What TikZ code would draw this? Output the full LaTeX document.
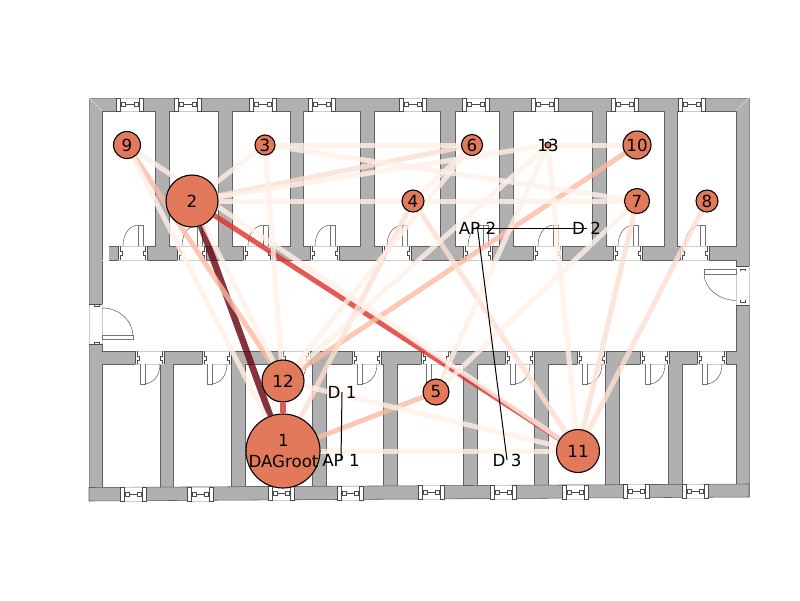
\documentclass[tikz,border=0pt]{standalone}
\usepackage{fontspec}
\setmainfont{DejaVu Sans}
\definecolor{wallgray}{HTML}{B0B0B0}
\definecolor{wallline}{HTML}{606060}
\definecolor{motefill}{HTML}{E2795B}
\definecolor{reddark}{HTML}{67000D}
\definecolor{redmid}{HTML}{E32F27}
\definecolor{redsalmon}{HTML}{FCB9A0}
\definecolor{redlight}{HTML}{FEDFD0}
\definecolor{redfaint}{HTML}{FFF0E8}
\pgfdeclarelayer{floorlayer}
\pgfdeclarelayer{linklayer}
\pgfsetlayers{floorlayer,linklayer,main}

\begin{document}
\begin{tikzpicture}[
  x=1pt, y=-1pt,
  font=\fontsize{16.67}{21}\selectfont,
  wall/.style={fill=wallgray, draw=wallline, line width=0.55pt},
  room/.style={fill=white, draw=wallline, line width=0.55pt},
  jamb/.style={draw=black!70, line width=0.55pt},
  frame/.style={draw=black!20, line width=0.55pt},
  leaf/.style={draw=black!55, line width=0.55pt},
  swing/.style={draw=black!70, line width=0.45pt},
  mote/.style={circle, draw=black, fill=motefill, line width=1.1pt, inner sep=0pt, minimum size=#1},
  link/.style={line width=5pt, line cap=butt, opacity=0.8, draw=#1},
  tag/.style={inner sep=0pt},
  lead/.style={draw=black, line width=1pt},
]
\useasboundingbox (0,0) rectangle (800,600);
\begin{pgfonlayer}{floorlayer}
% ================= walls and rooms =================
\fill[wallgray] (89,98) -- (749,98) -- (749,497) -- (89,501) -- cycle;
\draw[black!45, line width=0.6pt] (89,501) -- (89,98) -- (749,98) -- (749,497);
\draw[black!15, line width=0.5pt] (89,98) -- (102,111) (749,98) -- (736,111) (749,497) -- (736,484) (89,501) -- (102,487);
\foreach \xa/\xb in {102/155,169/218,232/290,303/360,374/440,455/499,513/592,606/664,677/736}
  \draw[room] (\xa,111) rectangle (\xb,246);
\foreach \xa/\xb in {102/160,173/231,245/312,326/383,397/463,477/534,548/605,619/668,682/736}{
  \pgfmathsetmacro\ya{487.5-(\xa-89)*0.0053}
  \draw[room] (\xa,364) rectangle (\xb,\ya);
}
\draw[room] (102,260) rectangle (736,351);
\fill[white] (102,246) rectangle (108.5,261);
\draw[wallline, line width=0.55pt] (102,246) -- (102,260);
\fill[white] (103,261) rectangle (735,350);
\draw[wall] (89,501) -- (749,497) -- (749,484) -- (89,487.5) -- cycle;
% ================= windows =================
\foreach \x in {116,174,249,308,399,462,531,611,678}{
  \fill[white] (\x,98) rectangle ++(27,13);
  \draw[frame] (\x,98) -- ++(27,0) (\x,111) -- ++(27,0);
  \draw[jamb] (\x,98) rectangle ++(4,13);
  \draw[jamb] (\x+23,98) rectangle ++(4,13);
  \draw[jamb] (\x+5,102.5) rectangle ++(4,4);
  \draw[jamb] (\x+18,102.5) rectangle ++(4,4);
  \draw[jamb] (\x+9,104.5) -- (\x+18,104.5);
}
\foreach \x in {120,187,268,337,418,490,562,623,682}{
  \pgfmathsetmacro\yw{487.5-(\x-89)*0.0053}
  \fill[white] (\x,\yw) rectangle ++(26,14);
  \draw[frame] (\x,\yw) -- ++(26,0) (\x,\yw+14) -- ++(26,0);
  \draw[jamb] (\x,\yw) rectangle ++(4,14);
  \draw[jamb] (\x+22,\yw) rectangle ++(4,14);
  \draw[jamb] (\x+5,\yw+5) rectangle ++(4,4);
  \draw[jamb] (\x+17,\yw+5) rectangle ++(4,4);
  \draw[jamb] (\x+9,\yw+7) -- (\x+17,\yw+7);
}
% ================= doors, upper rooms =================
\foreach \x in {118,177,243,310,382,463,533,613,680}{
  \fill[white] (\x,246) rectangle ++(29,14.5);
  \draw[frame] (\x,246) -- ++(29,0) (\x,260) -- ++(29,0);
  \draw[jamb] (\x+2,246) -- ++(0,5) -- ++(2,0) -- ++(0,4) -- ++(-2,0) -- ++(0,5);
  \draw[jamb] (\x+27,246) -- ++(0,5) -- ++(-2,0) -- ++(0,4) -- ++(2,0) -- ++(0,5);
  \draw[jamb] (\x,246) -- (\x,260) (\x+29,246) -- (\x+29,260);
  \fill[white] (\x+20,225) rectangle ++(5,21);
  \draw[leaf] (\x+20,246) -- (\x+20,225) -- (\x+25,225) -- (\x+25,246);
  \draw[swing] (\x+5,246) .. controls (\x+5,234) and (\x+11,226) .. (\x+20,225);
}
% ================= doors, lower rooms =================
\foreach \x in {135,202,281,352,421,505,577,640,697}{
  \fill[white] (\x,350.5) rectangle ++(29,14);
  \draw[frame] (\x,351) -- ++(29,0) (\x,364) -- ++(29,0);
  \draw[jamb] (\x+2,351) -- ++(0,5) -- ++(2,0) -- ++(0,4) -- ++(-2,0) -- ++(0,4);
  \draw[jamb] (\x+27,351) -- ++(0,5) -- ++(-2,0) -- ++(0,4) -- ++(2,0) -- ++(0,4);
  \draw[jamb] (\x,351) -- (\x,364) (\x+29,351) -- (\x+29,364);
  \fill[white] (\x+5,364) rectangle ++(5,20);
  \draw[leaf] (\x+5,364) -- (\x+5,384) -- (\x+10,384) -- (\x+10,364);
  \draw[swing] (\x+10,384) .. controls (\x+19,383) and (\x+25,375) .. (\x+25,364);
}
% ================= corridor end doors =================
\fill[white] (88.5,304) rectangle (103,344);
\draw[frame] (89,304) -- (89,344) (102,304) -- (102,344);
\draw[jamb] (89,304) -- (102,304) (89,344) -- (102,344);
\draw[jamb] (94,304) -- ++(0,2) -- ++(5,0) -- ++(0,-2);
\draw[jamb] (94,344) -- ++(0,-2) -- ++(5,0) -- ++(0,2);
\draw[leaf] (102,335) rectangle (133,339.5);
\draw[swing] (102,308) .. controls (119,308) and (132,320) .. (133,335);
\fill[white] (735.5,266) rectangle (749.5,305);
\draw[frame] (736,266) -- (736,305) (749,266) -- (749,305);
\draw[jamb] (736,266) -- (749,266) (736,305) -- (749,305);
\draw[jamb] (740,271) -- ++(0,-2) -- ++(5,0) -- ++(0,2);
\draw[jamb] (740,300) -- ++(0,2) -- ++(5,0) -- ++(0,-2);
\draw[leaf] (704,269.5) rectangle (736,274.5);
\draw[swing] (704,274.5) .. controls (705,289) and (719,300) .. (736,300.5);
\end{pgfonlayer}
% ================= motes =================
\node[mote=74] (m1) at (283,451) {};
\node[mote=52] (m2) at (192,201) {2};
\node[mote=20] (m3) at (265,145) {3};
\node[mote=22] (m4) at (413,201) {4};
\node[mote=26] (m5) at (436,392) {5};
\node[mote=21] (m6) at (472,145) {6};
\node[mote=25] (m7) at (637,201) {7};
\node[mote=22] (m8) at (707,201) {8};
\node[mote=27] (m9) at (127,145) {9};
\node[mote=28] (m10) at (637,145) {10};
\node[mote=43] (m11) at (578,451) {11};
\node[mote=42] (m12) at (283,381) {12};
\node[mote=6] (m13) at (548,145) {};
\node[tag, align=center] (t1) at (283.5,451) {1\\DAGroot};
\node[tag] (t13) at (548,145) {13};
% ================= links =================
\begin{pgfonlayer}{linklayer}
\draw[link=redmid] (m2) -- (m11);
\draw[link=redmid, line width=6pt] (m1) -- (m12);
\draw[link=reddark, line width=6.5pt] (m1) -- (m2);
\foreach \a/\b in {m9/m12,m10/m12,m1/m5}
  \draw[link=redsalmon] (\a) -- (\b);
\foreach \a/\b in {m2/m6,m4/m1,m4/m11,m7/m11,m8/m11}
  \draw[link=redlight] (\a.center) -- (\b.center);
\foreach \a/\b in {m9/m1,m9/m11,m2/m12,m2/m3,m2/m13,m2/m7,m3/m6,m3/m7,m3/m12,m6/m12,m6/m4,m13/m12,m13/m5,m13/m11,m13/m10,m1/m11,m12/m11,m7/m5}
  \draw[link=redfaint] (\a.center) -- (\b.center);
\end{pgfonlayer}
% ================= access points and destinations =================
\node[tag] (ap1) at (341,460) {AP 1};
\node[tag] (d1) at (342,392) {D 1};
\node[tag] (ap2) at (477.5,228) {AP 2};
\node[tag] (d2) at (586.5,228) {D 2};
\node[tag] (d3) at (507,460) {D 3};
\draw[lead] (ap1.center) -- (d1.center);
\draw[lead] (ap2.center) -- (d2.center);
\draw[lead] (ap2.center) -- (d3.center);
\end{tikzpicture}
\end{document}
